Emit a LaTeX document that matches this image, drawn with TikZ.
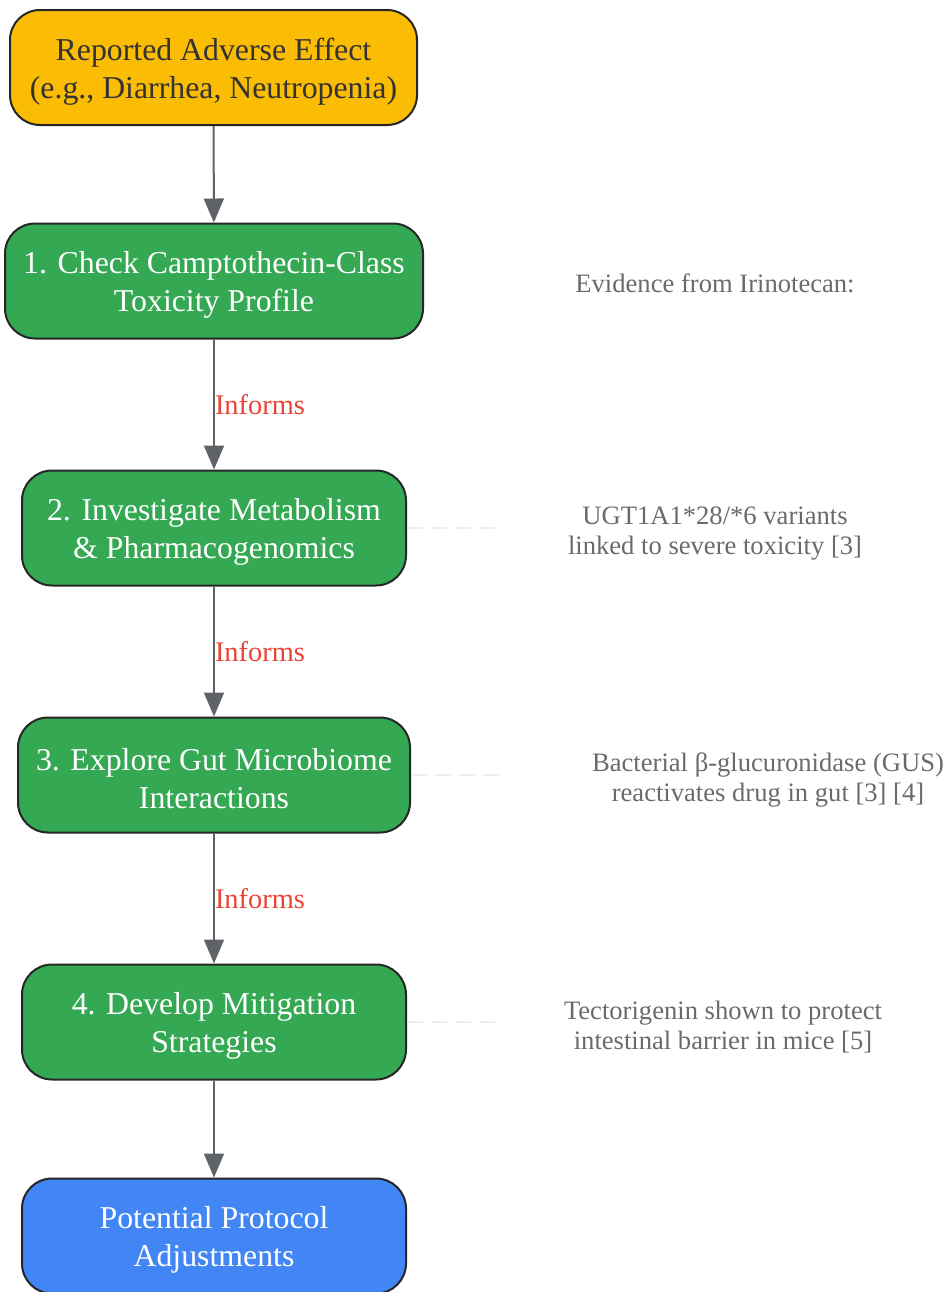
\documentclass[tikz,border=0pt]{standalone}
\usepackage{fontspec}
\setmainfont{Liberation Serif}
\usepackage{xcolor}
\usetikzlibrary{positioning,shapes,arrows.meta}

\definecolor{gyellow}{HTML}{FBBC04}
\definecolor{ggreen}{HTML}{34A853}
\definecolor{gblue}{HTML}{4285F4}
\definecolor{gred}{HTML}{EA4335}
\definecolor{ggrey}{HTML}{5F6368}
\definecolor{gtext}{HTML}{6A6A6A}
\newcommand{\lift}{\rule{0pt}{15pt}}

\begin{document}
\begin{tikzpicture}
            [x=0.5pt,y=-0.5pt,
             stage/.style={draw=black!85, line width=1pt, rounded corners=15pt, minimum height=57.5pt,
                           align=center, font=\fontsize{15.9}{19}\selectfont, text=white, fill=ggreen, inner sep=0pt},
             note/.style={align=center, font=\fontsize{13.3}{15}\selectfont, text=gtext},
             flow/.style={draw=ggrey, line width=1pt, -{Triangle[length=12pt,width=10pt]}},
             link/.style={draw=black!7, line width=1pt, dash pattern=on 8pt off 4pt},
             tag/.style={anchor=west, inner sep=0pt, text=gred, font=\fontsize{14.2}{17}\selectfont}]
            \useasboundingbox (0,0) rectangle (948,1292);

            \node[stage, fill=gyellow, text=black!80, minimum width=203.5pt] (effect) at (213.5,67.5) {\lift Reported Adverse Effect\\(e.g., Diarrhea, Neutropenia)};
            \node[stage, minimum width=209pt] (s1) at (214,281) {\lift 1. Check Camptothecin-Class\\Toxicity Profile};
            \node[stage, minimum width=192pt] (s2) at (214,528) {\lift 2. Investigate Metabolism\\\& Pharmacogenomics};
            \node[stage, minimum width=196pt] (s3) at (214,775) {\lift 3. Explore Gut Microbiome\\Interactions};
            \node[stage, minimum width=192pt] (s4) at (214,1022) {\lift 4. Develop Mitigation\\Strategies};
            \node[stage, fill=gblue, minimum width=192pt] (adjust) at (214,1236) {\lift Potential Protocol\\Adjustments};

            \node[note] (ev) at (715,283) {Evidence from Irinotecan:};
            \node[note] (ev2) at (715,534) {UGT1A1*28/*6 variants\\linked to severe toxicity [3]};
            \node[note] (ev3) at (768,780) {Bacterial β-glucuronidase (GUS)\\reactivates drug in gut [3] [4]};
            \node[note] (ev4) at (723,1027) {Tectorigenin shown to protect\\intestinal barrier in mice [5]};

            \coordinate (e2) at (500,528);
            \coordinate (e3) at (500,775);
            \coordinate (e4) at (500,1022);

            \foreach \from/\to in {effect/s1, s4/adjust}
            \draw[flow] (\from) -- (\to);
            \foreach \from/\to in {s1/s2, s2/s3, s3/s4}
            \draw[flow] (\from) -- node[tag] {Informs} (\to);
            \foreach \from/\to in {s2/e2, s3/e3, s4/e4}
            \draw[link] (\from.east) -- (\to);
          \end{tikzpicture}
\end{document}
